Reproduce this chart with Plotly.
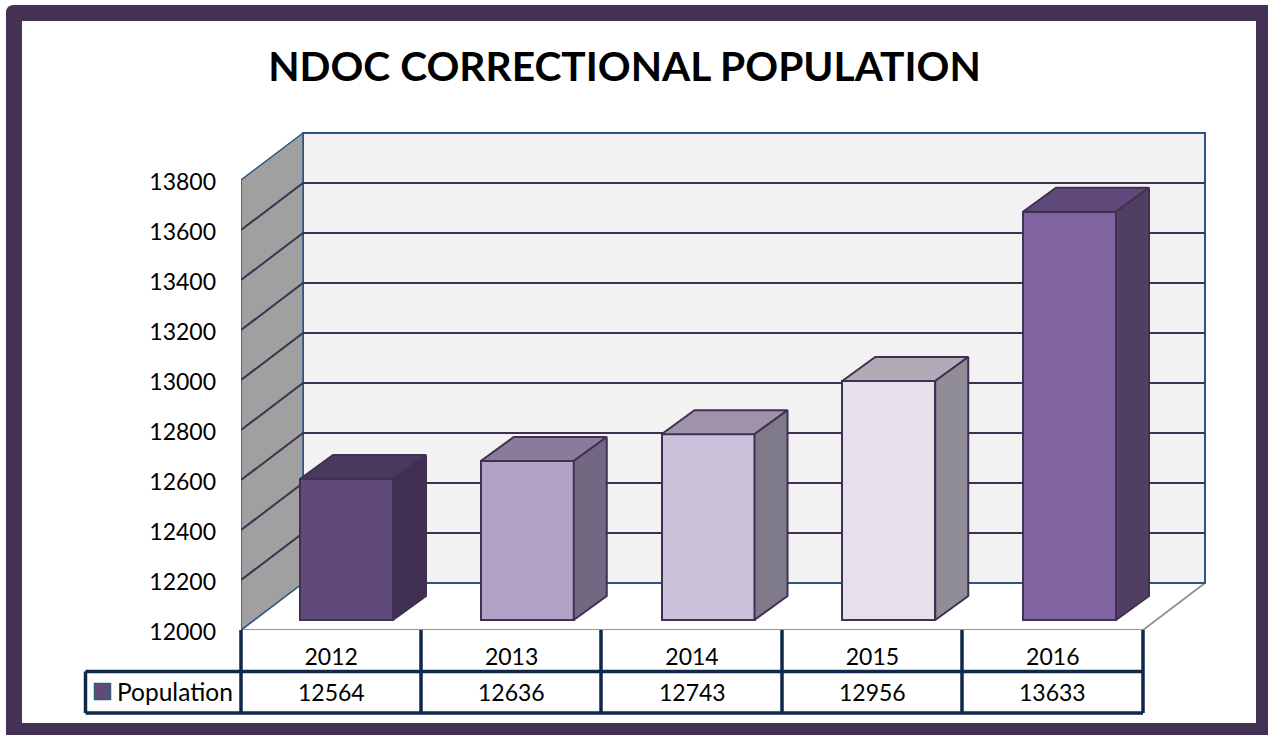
import plotly.graph_objects as go

# ---------- data ----------
years = [2012, 2013, 2014, 2015, 2016]
population = [12564, 12636, 12743, 12956, 13633]
y_ticks = [12000, 12200, 12400, 12600, 12800, 13000, 13200, 13400, 13600, 13800]
title_text = "NDOC CORRECTIONAL POPULATION"
series_name = "Population"

front_colors = ["#604a7b", "#b3a2c7", "#ccc1da", "#e6e0ec", "#8064a2"]
top_colors = ["#4a385e", "#8a7b9b", "#9e93aa", "#b0abb6", "#604a7b"]
side_colors = ["#3f2f50", "#736882", "#7f7a8a", "#918d97", "#513e63"]

# ---------- geometry ----------
W, H = 1268, 735
FRAME = "#433254"
OUTLINE = "#403152"
BLUE = "#2a5585"
TABLE = "#10294a"
FONT = "Lato"

PX_PER_YEAR = 180.4
BAR_PX_PER_YEAR = 180.75
PX_PER_UNIT = 0.25
AX_LEFT, AX_BOTTOM = 241, 630
X_MIN, X_MAX = 2011.5, 2016.9
Y_MIN, Y_MAX = 12000, 14000
FIRST_BAR_PX = 346.5
BAR_SHIFT_Y = 10
BAR_W = 93 / BAR_PX_PER_YEAR
BAR_DX, BAR_DY = 33 / BAR_PX_PER_YEAR, 24 / PX_PER_UNIT
WALL_DX, WALL_DY = 62 / PX_PER_YEAR, 47 / PX_PER_UNIT


def px(x):
    return x / W


def py(y):
    return 1 - y / H


ax_w = (X_MAX - X_MIN) * PX_PER_YEAR
ax_h = (Y_MAX - Y_MIN) * PX_PER_UNIT
x2_lo = years[0] - (FIRST_BAR_PX - AX_LEFT) / BAR_PX_PER_YEAR
x2_hi = x2_lo + ax_w / BAR_PX_PER_YEAR

fig = go.Figure()


def poly(xs, ys, fill, line, lw, axes=("x", "y")):
    fig.add_trace(go.Scatter(
        x=xs, y=ys, mode="lines", fill="toself", fillcolor=fill,
        line=dict(color=line, width=lw), hoverinfo="skip", showlegend=False,
        xaxis=axes[0], yaxis=axes[1]))


def line(xs, ys, color, lw):
    fig.add_trace(go.Scatter(
        x=xs, y=ys, mode="lines", line=dict(color=color, width=lw),
        hoverinfo="skip", showlegend=False))


x0, x1 = X_MIN, X_MIN + 5
y0, y1 = y_ticks[0], y_ticks[-1]

# floor, back wall, side wall
poly([x0, x1, x1 + WALL_DX, x0 + WALL_DX, x0], [y0, y0, y0 + WALL_DY, y0 + WALL_DY, y0],
     "#ffffff", "#969696", 2)
poly([x0 + WALL_DX, x1 + WALL_DX, x1 + WALL_DX, x0 + WALL_DX, x0 + WALL_DX],
     [y0 + WALL_DY, y0 + WALL_DY, y1 + WALL_DY, y1 + WALL_DY, y0 + WALL_DY],
     "#f2f2f2", BLUE, 2)
poly([x0, x0 + WALL_DX, x0 + WALL_DX, x0, x0],
     [y0, y0 + WALL_DY, y1 + WALL_DY, y1, y0],
     "#a0a0a0", BLUE, 1.5)

# gridlines over both walls
for t in y_ticks[1:-1]:
    line([x0, x0 + WALL_DX, x1 + WALL_DX], [t, t + WALL_DY, t + WALL_DY], OUTLINE, 2)

# bars: front faces
fig.add_trace(go.Bar(
    x=years, y=[v - y_ticks[0] for v in population], base=y_ticks[0],
    width=BAR_W, name=series_name, xaxis="x2", yaxis="y2",
    marker=dict(color=front_colors, line=dict(color=OUTLINE, width=2)),
    showlegend=False))

# bars: top and side faces
for yr, v, tc, sc in zip(years, population, top_colors, side_colors):
    l, r = yr - BAR_W / 2, yr + BAR_W / 2
    poly([l, r, r + BAR_DX, l + BAR_DX, l], [v, v, v + BAR_DY, v + BAR_DY, v],
         tc, OUTLINE, 2, ("x2", "y2"))
    poly([r, r + BAR_DX, r + BAR_DX, r, r],
         [y0, y0 + BAR_DY, v + BAR_DY, v, y0],
         sc, OUTLINE, 2, ("x2", "y2"))

# ---------- frame and table shapes ----------
R = 8
shapes = [
    dict(type="path", xref="paper", yref="paper", layer="below",
         path=(f"M {px(6)} {py(5 + R)} Q {px(6)} {py(5)} {px(6 + R)} {py(5)} "
               f"L {px(1268)} {py(5)} L {px(1268)} {py(735)} L {px(6)} {py(735)} Z"),
         fillcolor=FRAME, line=dict(width=0)),
    dict(type="rect", xref="paper", yref="paper", layer="below",
         x0=px(22), x1=px(1256), y0=py(21), y1=py(723),
         fillcolor="#ffffff", line=dict(width=0)),
]


def tline(xa, ya, xb, yb):
    shapes.append(dict(type="line", xref="paper", yref="paper",
                       x0=px(xa), x1=px(xb), y0=py(ya), y1=py(yb),
                       line=dict(color=TABLE, width=3.5)))


for xv in [241, 421, 601, 782, 962, 1143]:
    tline(xv, 630, xv, 713)
tline(85.5, 671.5, 1143, 671.5)
tline(85.5, 713, 1143, 713)
tline(85.5, 671.5, 85.5, 713)
shapes.append(dict(type="rect", xref="paper", yref="paper",
                   x0=px(94.5), x1=px(110.5), y0=py(683.5), y1=py(699.5),
                   fillcolor=front_colors[0], line=dict(color="#2f6070", width=1.5)))

annotations = [
    dict(text=series_name, xref="paper", yref="paper", x=px(114.5), y=py(691),
         xanchor="left", yanchor="middle", showarrow=False,
         font=dict(family=FONT, size=24.5, color="#000000")),
]
for yr, v in zip(years, population):
    annotations.append(dict(text=str(v), xref="x", yref="paper", x=yr, y=py(691.5),
                            xanchor="center", yanchor="middle", showarrow=False,
                            font=dict(family=FONT, size=23, color="#000000")))

common = dict(showgrid=False, zeroline=False, showline=False, automargin=False)

fig.update_layout(
    width=W, height=H, margin=dict(l=0, r=0, t=0, b=0, pad=0),
    paper_bgcolor="#ffffff", plot_bgcolor="rgba(0,0,0,0)",
    font=dict(family=FONT, size=23, color="#000000"),
    showlegend=False, bargap=0, shapes=shapes, annotations=annotations,
    title=dict(text=f"<b>{title_text}</b>", x=624.5 / W, y=py(67), xanchor="center",
               yanchor="middle", xref="paper", yref="paper", automargin=False,
               font=dict(family=FONT, size=40.7, color="#000000")),
    xaxis=dict(domain=[px(AX_LEFT), px(AX_LEFT + ax_w)], range=[X_MIN, X_MAX], tickvals=years,
               ticktext=[str(y) for y in years], ticks="", ticklabelstandoff=11,
               tickfont=dict(family=FONT, size=23), anchor="y", **common),
    yaxis=dict(domain=[py(AX_BOTTOM), py(AX_BOTTOM - ax_h)], range=[Y_MIN, Y_MAX], tickvals=y_ticks,
               ticktext=[str(t) for t in y_ticks], ticks="", ticklabelstandoff=24,
               ticklabelshift=2,
               tickfont=dict(family=FONT, size=23), anchor="x", **common),
    xaxis2=dict(range=[x2_lo, x2_hi],
                overlaying="x", visible=False, anchor="y2", **common),
    yaxis2=dict(range=[Y_MIN - BAR_SHIFT_Y / PX_PER_UNIT, Y_MAX - BAR_SHIFT_Y / PX_PER_UNIT],
                overlaying="y", visible=False, anchor="x2", **common),
)

fig.write_html("out.html", config=dict(displayModeBar=False),
               post_script="document.body.style.margin='0';document.body.style.overflow='hidden';")
